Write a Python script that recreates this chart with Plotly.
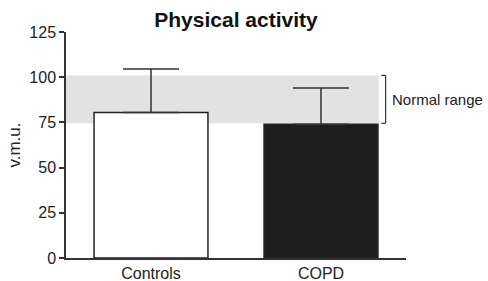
import plotly.graph_objects as go

categories = ["Controls", "COPD"]
means = [80.5, 74.0]
sd_upper = [24.0, 20.0]
bar_colors = ["#ffffff", "#1e1e1e"]
normal_low = 74.5
normal_high = 101.0
y_ticks = [0, 25, 50, 75, 100, 125]

AX = "#333333"
FONT = "Liberation Sans, Arial, sans-serif"

fig = go.Figure()
fig.add_trace(go.Bar(
    x=categories, y=means, width=0.67,
    marker=dict(color=bar_colors, line=dict(color="#222222", width=1.5)),
    error_y=dict(type="data", array=sd_upper, arrayminus=[0, 0], symmetric=False,
                 color=AX, thickness=1.5, width=28),
    showlegend=False,
))

# normal range band
fig.add_shape(type="rect", xref="x", yref="y", x0=-0.5, x1=1.34,
              y0=normal_low, y1=normal_high, fillcolor="#e2e2e2",
              line=dict(width=0), layer="below")
# bracket
bx = 1.38
for seg in [(bx, normal_low, bx, normal_high), (bx - 0.025, normal_high, bx, normal_high),
            (bx - 0.025, normal_low, bx, normal_low)]:
    fig.add_shape(type="line", xref="x", yref="y", x0=seg[0], y0=seg[1], x1=seg[2], y1=seg[3],
                  line=dict(color=AX, width=1.2))
fig.add_annotation(x=1.42, y=(normal_low + normal_high) / 2, xref="x", yref="y",
                   text="Normal range", showarrow=False, xanchor="left", yanchor="middle",
                   xshift=-2, font=dict(size=15, color="#222222", family=FONT))

fig.update_layout(
    width=488, height=281,
    margin=dict(l=66, r=82, t=32, b=23),
    paper_bgcolor="white", plot_bgcolor="white",
    font=dict(family=FONT, size=15, color="#222222"),
    title=dict(text="<b>Physical activity</b>", x=0.5, xref="paper", y=1 - 20 / 281,
               yref="container", xanchor="center", yanchor="middle",
               font=dict(size=21, color="#111111")),
)
fig.update_xaxes(range=[-0.5, 1.5], showline=True, linecolor=AX, linewidth=1.5,
                 ticks="", showgrid=False, zeroline=False, tickfont=dict(size=16),
                 automargin=False)
fig.update_yaxes(range=[0, 125], tickvals=y_ticks, showline=True, linecolor=AX, linewidth=1.5,
                 ticks="outside", ticklen=5, tickwidth=1.5, tickcolor=AX,
                 showgrid=False, zeroline=False, tickfont=dict(size=16), automargin=False,
                 title=dict(text="v.m.u.", font=dict(size=17), standoff=4))

fig.write_html("out.html", config={"displayModeBar": False},
               post_script="document.body.style.margin='0';document.body.style.overflow='hidden';")
